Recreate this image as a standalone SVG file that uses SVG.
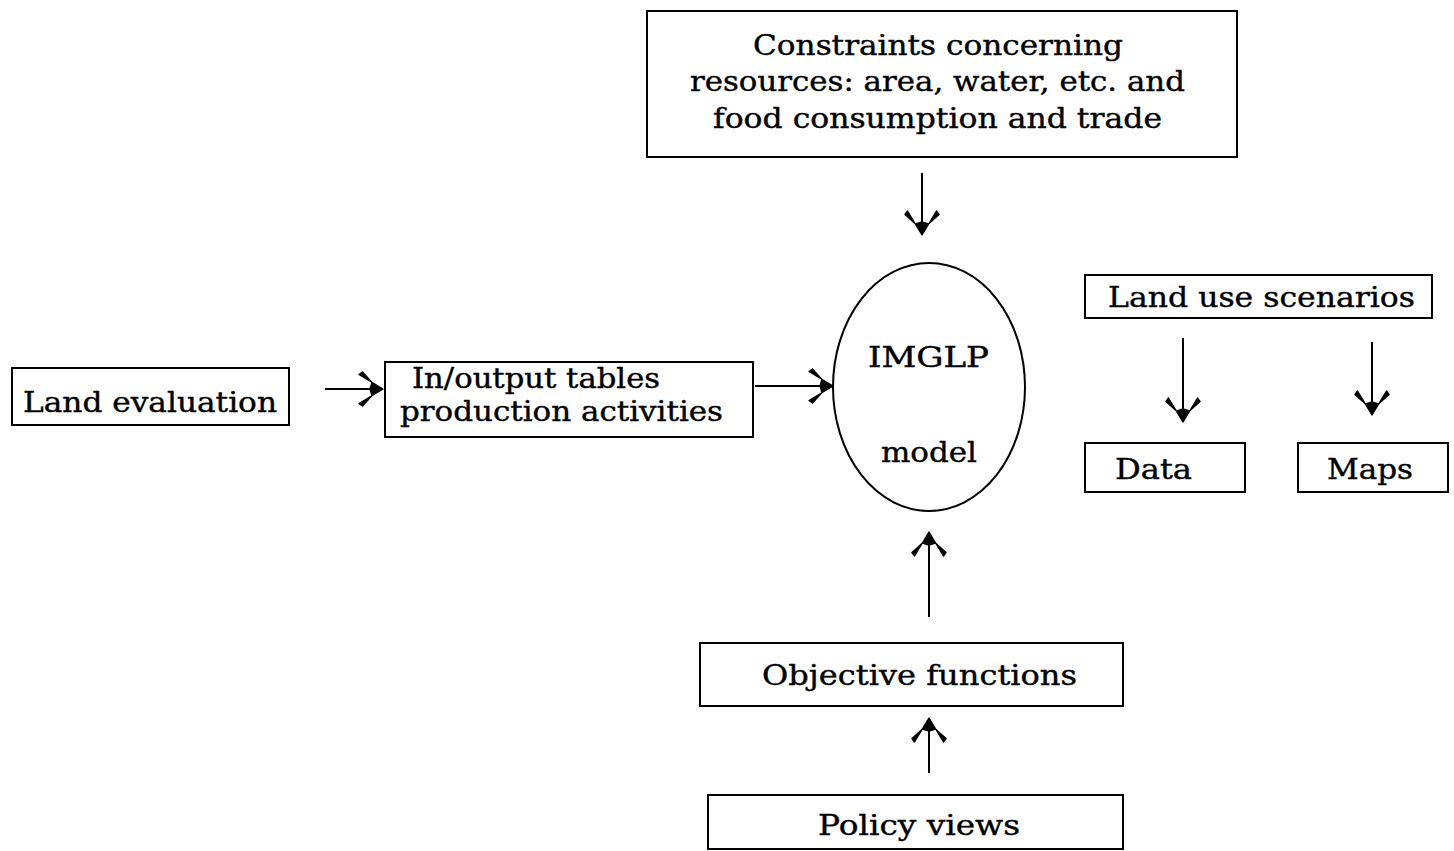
<svg xmlns="http://www.w3.org/2000/svg" width="1454" height="851" viewBox="0 0 1454 851">
  <style>
    .box { fill: #ffffff; stroke: #000000; stroke-width: 2; }
    .oval { fill: #ffffff; stroke: #000000; stroke-width: 2; }
    .lbl { font-family: "DejaVu Serif", "Liberation Serif", serif; font-size: 28px; fill: #000000; stroke: #000000; stroke-width: 0.4; }
    .link { stroke: #000000; stroke-width: 2; fill: none; marker-end: url(#head); }
  </style>
  <defs>
    <!-- swept-back arrowhead with heavy barbs and a solid core -->
    <marker id="head" markerUnits="userSpaceOnUse" orient="auto" viewBox="-28 -20 30 40" refX="0" refY="0" markerWidth="30" markerHeight="40">
      <path d="M0,0 L-24,-14.5 L-20.5,-17 L-11,-6.5 L-13,0 L-11,6.5 L-20.5,17 L-24,14.5 Z" fill="#000000" stroke="#000000" stroke-width="1.4" stroke-linejoin="round"/>
    </marker>
  </defs>
  <rect width="1454" height="851" fill="#ffffff"/>

  <g id="constraints">
    <rect class="box" x="647" y="11" width="590" height="146"/>
    <text class="lbl" x="753" y="55" textLength="370" lengthAdjust="spacingAndGlyphs">Constraints concerning</text>
    <text class="lbl" x="690" y="91" textLength="495" lengthAdjust="spacingAndGlyphs">resources: area, water, etc. and</text>
    <text class="lbl" x="713" y="128" textLength="449" lengthAdjust="spacingAndGlyphs">food consumption and trade</text>
  </g>

  <g id="land-evaluation">
    <rect class="box" x="12" y="368" width="277" height="57"/>
    <text class="lbl" x="23" y="412" textLength="254" lengthAdjust="spacingAndGlyphs">Land evaluation</text>
  </g>

  <g id="io-tables">
    <rect class="box" x="385" y="362" width="368" height="75"/>
    <text class="lbl" x="412" y="388" textLength="248" lengthAdjust="spacingAndGlyphs">In/output tables</text>
    <text class="lbl" x="400" y="421" textLength="323" lengthAdjust="spacingAndGlyphs">production activities</text>
  </g>

  <g id="imglp">
    <ellipse class="oval" cx="929" cy="387" rx="96" ry="124"/>
    <text class="lbl" x="868" y="367" textLength="121" lengthAdjust="spacingAndGlyphs">IMGLP</text>
    <text class="lbl" x="881" y="462" textLength="96" lengthAdjust="spacingAndGlyphs">model</text>
  </g>

  <g id="land-use-scenarios">
    <rect class="box" x="1085" y="275" width="347" height="43"/>
    <text class="lbl" x="1108" y="307" textLength="307" lengthAdjust="spacingAndGlyphs">Land use scenarios</text>
  </g>

  <g id="data">
    <rect class="box" x="1085" y="443" width="160" height="49"/>
    <text class="lbl" x="1115" y="479" textLength="77" lengthAdjust="spacingAndGlyphs">Data</text>
  </g>

  <g id="maps">
    <rect class="box" x="1298" y="443" width="150" height="49"/>
    <text class="lbl" x="1327" y="479" textLength="86" lengthAdjust="spacingAndGlyphs">Maps</text>
  </g>

  <g id="objective-functions">
    <rect class="box" x="700" y="643" width="423" height="63"/>
    <text class="lbl" x="762" y="685" textLength="315" lengthAdjust="spacingAndGlyphs">Objective functions</text>
  </g>

  <g id="policy-views">
    <rect class="box" x="708" y="795" width="415" height="54"/>
    <text class="lbl" x="818" y="835" textLength="202" lengthAdjust="spacingAndGlyphs">Policy views</text>
  </g>

  <g id="connectors">
    <line class="link" x1="922" y1="173" x2="922" y2="235"/>
    <line class="link" x1="325" y1="389" x2="383" y2="389"/>
    <line class="link" x1="755" y1="386" x2="833" y2="386"/>
    <line class="link" x1="929" y1="617" x2="929" y2="532"/>
    <line class="link" x1="929" y1="773" x2="929" y2="718"/>
    <line class="link" x1="1183" y1="338" x2="1183" y2="422"/>
    <line class="link" x1="1372" y1="342" x2="1372" y2="415"/>
  </g>
</svg>
